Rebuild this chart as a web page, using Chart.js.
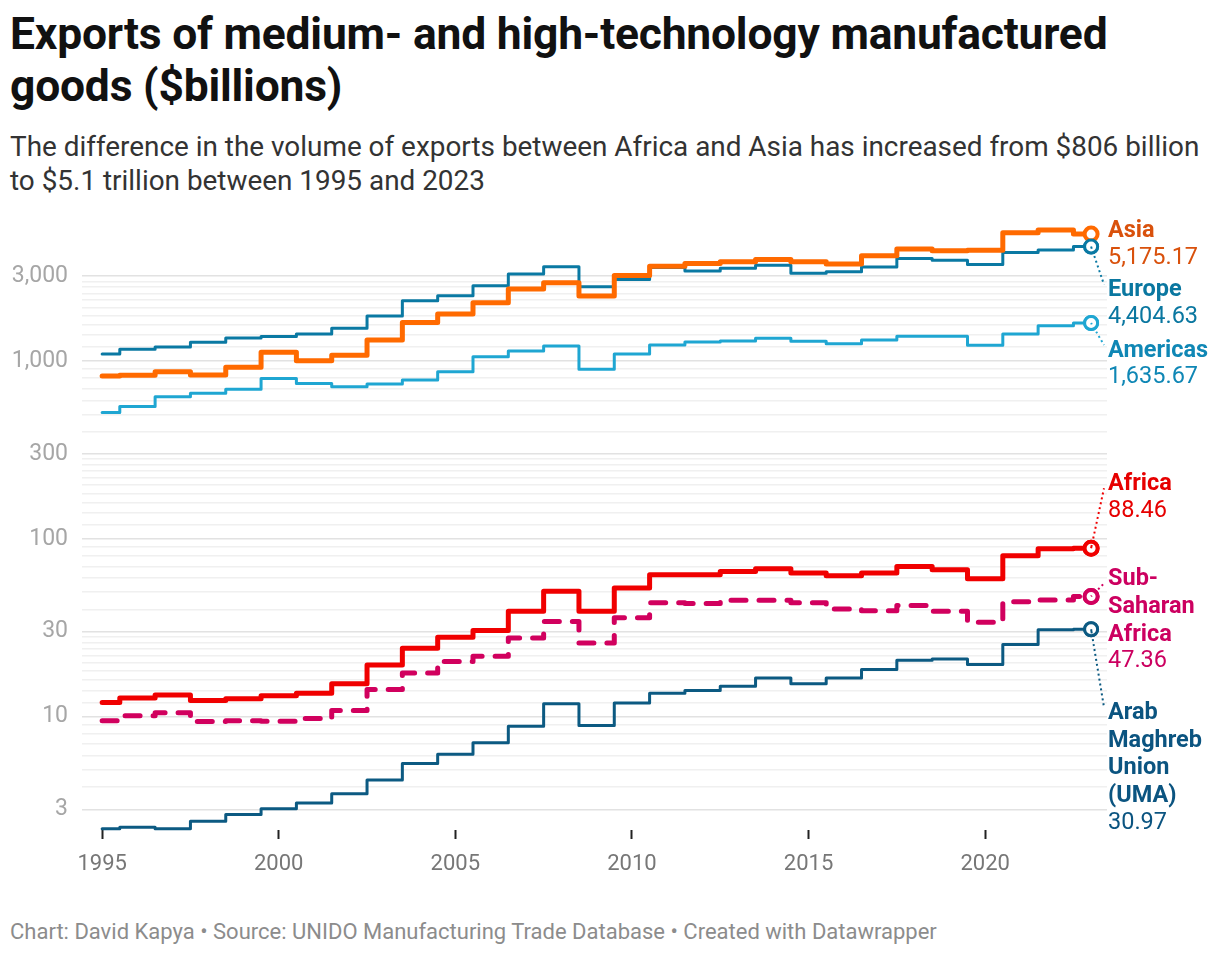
<!DOCTYPE html>
<html>
<head>
<meta charset="utf-8">
<script src="https://cdn.jsdelivr.net/npm/chart.js@4.4.1/dist/chart.umd.min.js"></script>
<style>
  body { margin: 0; background: #fff; font-family: Roboto, sans-serif; }
  #wrap { position: relative; width: 1220px; height: 956px; }
  h1 { position: absolute; left: 10px; top: 8px; margin: 0; width: 1180px;
       font-size: 44.4px; line-height: 52px; font-weight: 700; color: #111; letter-spacing: -0.2px; }
  .sub { position: absolute; left: 10px; top: 130px; width: 1210px;
         font-size: 27.9px; line-height: 34px; color: #333; }
  .foot { position: absolute; left: 10px; top: 919px; font-size: 22px; color: #8c8c8c; }
  #box { position: absolute; left: 0; top: 200px; width: 1220px; height: 700px; }
</style>
</head>
<body>
<div id="wrap">
  <h1>Exports of medium- and high-technology manufactured goods ($billions)</h1>
  <div class="sub">The difference in the volume of exports between Africa and Asia has increased from $806 billion to $5.1 trillion between 1995 and 2023</div>
  <div id="box"><canvas id="myChart"></canvas></div>
  <div class="foot">Chart: David Kapya • Source: UNIDO Manufacturing Trade Database • Created with Datawrapper</div>
</div>
<script>
const years = [1995, 1996, 1997, 1998, 1999, 2000, 2001, 2002, 2003, 2004, 2005, 2006, 2007, 2008, 2009,
               2010, 2011, 2012, 2013, 2014, 2015, 2016, 2017, 2018, 2019, 2020, 2021, 2022, 2023];

const asia = [824, 831, 871, 834, 922, 1120, 1004, 1076, 1312, 1649, 1836, 2127, 2538, 2752, 2318,
              3029, 3417, 3538, 3614, 3727, 3614, 3508, 3906, 4260, 4166, 4203, 5265, 5449, 5175.17];
const europe = [1094, 1164, 1200, 1274, 1346, 1375, 1418, 1528, 1791, 2183, 2329, 2650, 3083, 3388, 2617,
                2877, 3360, 3205, 3320, 3460, 3120, 3180, 3375, 3777, 3690, 3490, 4077, 4217, 4404.63];
const americas = [513, 554, 630, 658, 693, 798, 748, 717, 742, 782, 871, 1057, 1138, 1214, 898,
                  1094, 1230, 1279, 1295, 1341, 1290, 1250, 1312, 1376, 1376, 1225, 1418, 1579, 1635.67];
const africa = [12.0, 12.7, 13.2, 12.3, 12.6, 13.1, 13.5, 15.3, 19.5, 24.2, 27.9, 30.5, 39.1, 50.6, 39.1,
                52.9, 62.8, 62.8, 65.5, 67.8, 64.1, 62.0, 64.1, 69.8, 67.0, 59.6, 80.2, 88.0, 88.46];
const subSaharan = [9.46, 10.1, 10.5, 9.37, 9.46, 9.4, 9.75, 10.8, 14.2, 17.6, 20.4, 21.8, 27.7, 34.2, 25.9,
                    36.0, 43.6, 43.3, 45.1, 45.1, 43.6, 40.3, 39.3, 42.1, 39.1, 33.9, 44.3, 45.2, 47.36];
const uma = [2.34, 2.38, 2.34, 2.58, 2.81, 3.03, 3.26, 3.68, 4.39, 5.44, 6.14, 7.11, 8.82, 11.8, 8.9,
             11.9, 13.5, 14.0, 14.8, 16.5, 15.3, 16.5, 18.4, 20.7, 21.1, 19.6, 25.4, 30.8, 30.97];

const xTicks = [1995, 2000, 2005, 2010, 2015, 2020];
const yMajor = [3, 10, 30, 100, 300, 1000, 3000];
const yTicks = [3, 4, 5, 6, 7, 8, 9, 10, 12, 14, 16, 18, 20, 22, 24, 26, 28, 30,
                40, 50, 60, 70, 80, 90, 100, 120, 140, 160, 180, 200, 220, 240, 260, 280, 300,
                400, 500, 600, 700, 800, 900, 1000, 1200, 1400, 1600, 1800, 2000, 2200, 2400, 2600, 2800, 3000];

// series: name lines, line colour, label colour, width, label shift (px from end point)
const series = [
    { name: ['Asia'], data: asia, color: '#ff6a00', text: '#d9510c', width: 5, shift: -3 },
    { name: ['Africa'], data: africa, color: '#f00000', text: '#e60000', width: 5, shift: -64 },
    { name: ['Sub-', 'Saharan', 'Africa'], data: subSaharan, color: '#d1005e', text: '#cc0060', width: 5, shift: -17, dash: [15, 13] },
    { name: ['Europe'], data: europe, color: '#0a79a3', text: '#0a77a0', width: 3, shift: 44 },
    { name: ['Americas'], data: americas, color: '#1fa6d2', text: '#0f87b5', width: 3, shift: 28 },
    { name: ['Arab', 'Maghreb', 'Union', '(UMA)'], data: uma, color: '#0c5a82', text: '#0b5480', width: 3, shift: 84 }
];

const fmt = v => v.toLocaleString('en-US', { minimumFractionDigits: 2, maximumFractionDigits: 2 });

const endLabels = {
    id: 'endLabels',
    afterDatasetsDraw(chart) {
        const ctx = chart.ctx;
        const labelX = chart.chartArea.right + 1;
        const lineH = 27.6;
        series.forEach((s, i) => {
            const pt = chart.getDatasetMeta(i).data[s.data.length - 1];
            const top = pt.y + s.shift;
            ctx.save();
            if (Math.abs(s.shift) > 10) {
                ctx.strokeStyle = s.color;
                ctx.lineWidth = 2;
                ctx.setLineDash([2, 3]);
                ctx.beginPath();
                ctx.moveTo(pt.x, pt.y);
                ctx.lineTo(labelX - 4, top + (s.shift > 0 ? -6 : 4));
                ctx.stroke();
                ctx.setLineDash([]);
                // redraw circle on top of connector start
                ctx.beginPath();
                ctx.arc(pt.x, pt.y, 6.5, 0, Math.PI * 2);
                ctx.fillStyle = '#fff';
                ctx.fill();
                ctx.lineWidth = s.width > 3 ? 4 : 3;
                ctx.strokeStyle = s.color;
                ctx.stroke();
                ctx.beginPath();
                ctx.moveTo(pt.x, pt.y);
                ctx.lineTo(pt.x + (labelX - 4 - pt.x) * 0.05, pt.y + (top - pt.y) * 0.05);
                ctx.lineWidth = 2;
                ctx.stroke();
            }
            ctx.textAlign = 'left';
            ctx.textBaseline = 'middle';
            ctx.fillStyle = s.text;
            ctx.font = 'bold 23.5px Roboto';
            s.name.forEach((ln, k) => ctx.fillText(ln, labelX, top + k * lineH));
            ctx.font = '23.5px Roboto';
            ctx.fillText(fmt(s.data[s.data.length - 1]), labelX, top + s.name.length * lineH - 1);
            ctx.restore();
        });
    }
};

new Chart('myChart', {
    type: 'line',
    data: {
        datasets: series.map(s => ({
            data: years.map((y, i) => ({ x: y, y: s.data[i] })),
            borderColor: s.color,
            borderWidth: s.width,
            borderDash: s.dash || [],
            borderCapStyle: 'round',
            borderJoinStyle: 'round',
            stepped: 'middle',
            fill: false,
            clip: false,
            pointRadius: c => c.dataIndex === years.length - 1 ? 6.5 : 0,
            pointBorderWidth: s.width > 3 ? 4 : 3,
            pointBorderColor: s.color,
            pointBackgroundColor: '#fff',
            pointHoverRadius: 0
        }))
    },
    options: {
        responsive: true,
        maintainAspectRatio: false,
        animation: false,
        events: [],
        layout: { padding: { top: 28, right: 113, bottom: 10, left: 0 } },
        plugins: { legend: { display: false }, tooltip: { enabled: false } },
        scales: {
            x: {
                type: 'linear',
                min: 1994.43, max: 2023.45,
                afterBuildTicks: scale => { scale.ticks = xTicks.map(v => ({ value: v })); },
                afterFit: scale => { scale.height = 60; },
                border: { display: false },
                grid: { drawOnChartArea: false, drawTicks: true, tickLength: 9, tickColor: '#222', tickWidth: 2 },
                ticks: { padding: 12, color: '#777', font: { family: 'Roboto', size: 22 }, callback: v => String(v) }
            },
            y: {
                type: 'logarithmic',
                min: 2.3, max: 5600,
                afterBuildTicks: scale => { scale.ticks = yTicks.map(v => ({ value: v })); },
                afterFit: scale => { scale.width = 82; },
                border: { display: false },
                grid: {
                    drawTicks: false,
                    lineWidth: 1.6,
                    color: c => yMajor.includes(c.tick.value) ? '#e2e2e2' : '#f0f0f0'
                },
                ticks: {
                    autoSkip: false,
                    padding: 14,
                    color: '#a6a6a6',
                    font: { family: 'Roboto', size: 23 },
                    callback: v => yMajor.includes(v) ? v.toLocaleString('en-US') : ''
                }
            }
        }
    },
    plugins: [endLabels]
});
</script>
</body>
</html>
